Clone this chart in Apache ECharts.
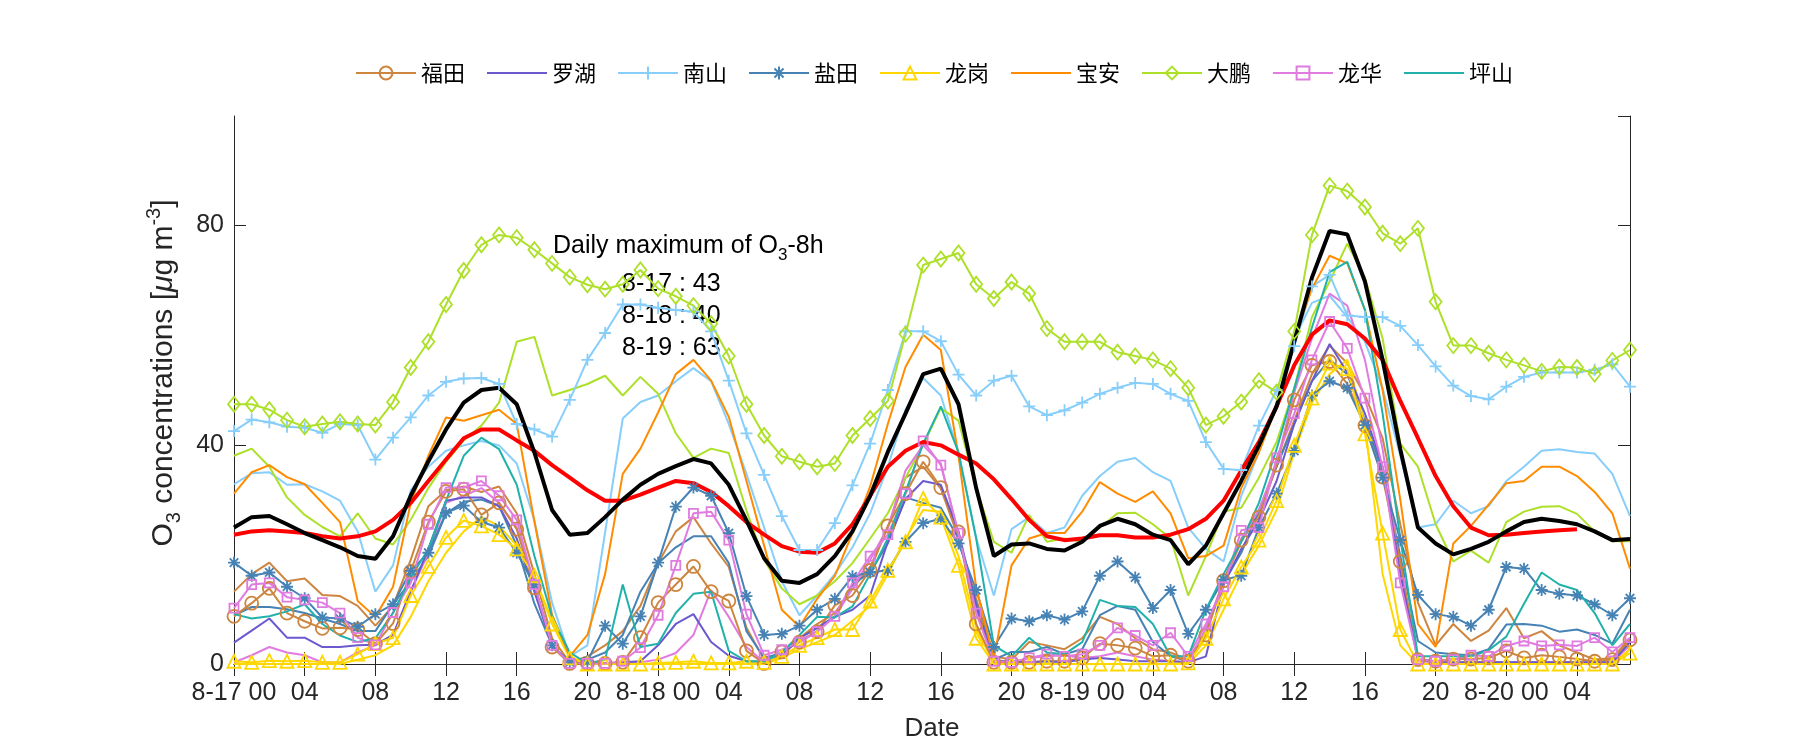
<!DOCTYPE html>
<html><head><meta charset="utf-8">
<script src="https://cdn.jsdelivr.net/npm/echarts@6/dist/echarts.min.js"></script>
<style>html,body{margin:0;padding:0;background:#fff}#c{width:1800px;height:750px}</style>
</head><body><div id="c"></div>
<script>
// ---------- tick labels / categories ----------
const days = ['8-17', '8-18', '8-19', '8-20'];
const nHours = 80;
const categories = [];
for (let h = 0; h < nHours; h++) {
  const d = Math.floor(h / 24), hh = h % 24;
  categories.push(hh === 0 ? days[d] + ' 00' : String(hh).padStart(2, '0'));
}
const stations = ['福田', '罗湖', '南山', '盐田', '龙岗', '宝安', '大鹏', '龙华', '坪山'];

// ---------- annotation ----------
const annDays = ['8-17', '8-18', '8-19'];
const annMax = [43, 40, 63];

// ---------- series values (hourly, 8-17 00 .. 8-20 07) ----------
const futian = [8.7, 11.1, 13.8, 9.3, 7.8, 6.5, 6.6, 6.3, 3.7, 7.4, 16.9, 25.9, 31.5, 31.9,
  27.2, 29.4, 24.6, 13.9, 3.1, 0.1, 0.1, 0.1, 0.3, 4.8, 11.2, 14.5, 17.8,
  13.2, 11.5, 2.4, 0.1, 2.2, 4.0, 5.9, 10.7, 12.5, 17.1, 25.2, 31.1, 36.9,
  32.2, 24.1, 7.3, 0.3, 0.3, 0.3, 0.5, 0.5, 1.1, 3.7, 3.4, 2.9, 1.4,
  1.6, 0.5, 5.3, 15.2, 22.6, 26.8, 36.3, 48.2, 54.5, 55.2, 51.1, 43.5, 34.1,
  18.7, 0.8, 0.5, 0.9, 0.9, 1.1, 2.4, 1.1, 1.6, 1.3, 0.9, 0.5, 0.8, 4.4];
const futian2 = [13.2, 16.4, 18.5, 15.1, 15.6, 12.6, 12.4, 10.6, 7.0, 10.6, 19.0, 28.8, 31.7, 32.4,
  31.4, 32.4, 27.5, 16.4, 4.7, 0.3, 1.4, 3.4, 6.0, 10.6, 18.4, 24.2, 26.8,
  22.0, 17.7, 6.6, 0.8, 2.0, 4.7, 7.3, 9.3, 13.8, 17.7, 24.9, 34.0, 36.0,
  32.0, 23.0, 11.9, 1.4, 0.8, 4.0, 3.4, 2.7, 4.7, 8.6, 7.3, 4.7, 2.7,
  2.1, 0.8, 6.0, 15.1, 22.3, 27.5, 36.0, 44.4, 52.9, 58.1, 54.9, 49.0, 41.2,
  25.5, 11.2, 3.4, 7.3, 4.2, 6.1, 10.2, 4.7, 6.0, 3.4, 2.1, 0.8, 1.1, 4.7];
const luohu = [3.9, 6.1, 8.3, 4.8, 4.8, 3.1, 3.1, 3.4, 3.5, 5.3, 13.2, 21.0, 29.8, 30.4,
  30.4, 28.8, 22.9, 13.2, 3.4, 0.3, 0.0, 0.0, 0.3, 0.5, 3.4, 7.3, 9.1,
  4.0, 1.5, 0.5, 0.3, 1.5, 4.7, 6.6, 8.6, 9.9, 12.5, 22.3, 30.1, 33.4,
  32.7, 24.2, 10.6, 0.5, 0.5, 0.3, 0.5, 0.3, 0.8, 1.1, 0.8, 0.5, 0.5,
  0.5, 0.3, 1.4, 14.5, 21.0, 26.2, 33.4, 43.8, 51.6, 58.4, 53.2, 45.7, 36.0,
  16.4, 0.8, 0.5, 0.3, 0.3, 0.3, 0.3, 0.3, 0.3, 0.3, 0.3, 0.3, 0.3, 4.0];
const nanshan = [42.5, 44.6, 44.1, 43.3, 43.1, 42.2, 43.8, 43.6, 37.3, 41.3, 45.0, 49.0, 51.5, 52.1,
  52.2, 51.1, 43.8, 42.8, 41.5, 48.2, 55.5, 60.4, 65.6, 65.6, 65.0, 64.6, 64.3,
  60.7, 51.7, 42.1, 34.5, 27.0, 20.8, 20.8, 25.7, 32.6, 40.2, 50.0, 60.7, 60.7,
  58.9, 52.8, 49.0, 51.7, 52.6, 47.0, 45.4, 46.3, 47.7, 49.3, 50.4, 51.3, 51.1,
  49.3, 48.0, 40.5, 35.6, 35.4, 43.5, 50.0, 58.0, 68.9, 71.0, 63.6, 63.3, 63.3,
  61.7, 58.2, 54.3, 50.8, 48.9, 48.3, 50.6, 52.4, 53.2, 53.2, 53.2, 53.7, 54.7, 50.6];
const nanshan2 = [32.8, 34.8, 35.0, 32.7, 32.8, 31.5, 29.8, 24.2, 13.2, 18.0, 31.7, 36.0, 38.9, 39.9,
  40.7, 39.9, 36.6, 26.2, 11.2, 1.4, 3.4, 24.0, 44.8, 47.8, 49.0, 51.6, 54.0,
  51.6, 43.8, 34.7, 24.9, 15.1, 8.9, 12.5, 16.4, 21.3, 27.5, 36.0, 46.4, 52.2,
  49.0, 38.6, 23.0, 12.5, 24.6, 26.8, 23.9, 24.9, 30.7, 34.3, 36.9, 37.6, 35.0,
  33.4, 24.9, 21.0, 18.7, 30.7, 38.6, 47.7, 59.4, 65.9, 67.2, 63.3, 58.8, 50.3,
  38.0, 24.9, 25.5, 29.8, 27.5, 28.8, 33.4, 36.0, 38.9, 39.2, 38.7, 38.4, 34.7, 27.0];
const yantian = [18.5, 16.1, 16.7, 14.1, 12.0, 8.5, 8.3, 6.8, 9.1, 10.9, 17.0, 20.3, 27.6, 28.9,
  25.9, 24.9, 20.3, 14.5, 3.4, 0.3, 0.5, 7.0, 3.7, 8.7, 18.5, 28.7, 32.2,
  30.7, 23.9, 12.4, 5.3, 5.5, 7.0, 9.9, 11.9, 16.0, 16.7, 17.1, 22.3, 25.7,
  26.5, 22.0, 13.5, 3.1, 8.3, 7.8, 8.9, 8.1, 9.6, 16.1, 18.7, 15.8, 10.2,
  13.5, 5.5, 9.9, 15.4, 16.1, 24.9, 31.1, 38.9, 49.0, 51.6, 50.4, 43.6, 34.0,
  22.6, 12.6, 9.1, 8.6, 7.0, 9.9, 17.7, 17.4, 13.5, 12.8, 12.5, 10.9, 8.9, 12.0];
const yantian2 = [8.9, 10.4, 10.4, 10.0, 9.3, 8.3, 7.3, 6.0, 6.0, 10.9, 15.1, 19.7, 27.5, 29.6,
  30.0, 28.8, 21.6, 11.0, 3.4, 0.3, 0.8, 2.1, 5.3, 13.2, 18.4, 21.3, 23.3,
  23.3, 18.4, 6.0, 1.1, 2.0, 4.7, 6.6, 8.6, 14.5, 16.7, 22.0, 30.4, 29.4,
  28.5, 22.9, 11.2, 0.8, 2.2, 2.2, 3.1, 1.8, 2.7, 8.9, 10.6, 9.9, 4.0,
  1.4, 0.5, 6.0, 14.8, 20.3, 28.1, 36.0, 43.8, 51.6, 55.5, 52.9, 44.4, 35.3,
  19.7, 4.2, 2.1, 1.8, 1.6, 2.7, 7.2, 7.3, 7.0, 5.9, 6.3, 5.3, 3.7, 9.9];
const longgang = [0.5, 0.3, 0.6, 0.5, 0.6, 0.3, 0.3, 1.8, 3.7, 4.8, 12.5, 17.8, 23.1, 26.2,
  25.2, 23.6, 21.0, 16.1, 7.3, 1.1, 0.0, 0.0, 0.0, 0.0, 0.2, 0.3, 0.5,
  0.2, 0.2, 0.5, 0.3, 1.4, 3.4, 4.8, 6.3, 6.3, 11.5, 17.1, 22.3, 30.2,
  26.8, 18.0, 4.7, 0.0, 0.0, 0.0, 0.0, 0.0, 0.0, 0.0, 0.0, 0.0, 0.0,
  0.0, 0.2, 4.7, 11.9, 17.7, 22.6, 29.8, 39.9, 48.5, 54.9, 53.9, 42.0, 23.9,
  6.3, 0.0, 0.0, 0.0, 0.0, 0.0, 0.0, 0.0, 0.0, 0.0, 0.0, 0.0, 0.0, 2.0];
const longgang2 = [0.0, 0.0, 0.0, 0.0, 0.0, 0.0, 0.0, 0.8, 1.6, 3.4, 8.6, 15.1, 20.3, 24.2,
  26.8, 25.2, 21.6, 15.8, 8.0, 1.4, 0.0, 0.0, 0.0, 0.0, 0.0, 0.0, 0.0,
  0.0, 0.0, 0.0, 0.0, 1.1, 2.7, 4.0, 5.3, 7.9, 10.6, 16.4, 22.9, 28.1,
  27.8, 19.7, 6.6, 0.0, 0.0, 0.0, 0.0, 0.0, 0.0, 0.0, 0.0, 0.0, 0.0,
  0.0, 0.0, 3.4, 9.9, 16.4, 21.6, 28.1, 38.6, 47.7, 52.9, 55.5, 43.8, 16.4,
  3.4, 0.0, 0.0, 0.0, 0.0, 0.0, 0.0, 0.0, 0.0, 0.0, 0.0, 0.0, 0.0, 2.7];
const baoan = [31.1, 35.0, 36.3, 34.1, 32.8, 29.4, 25.9, 11.5, 8.6, 14.1, 29.4, 38.0, 45.0, 44.4,
  45.4, 46.4, 43.8, 26.0, 9.0, 1.4, 5.3, 16.4, 34.7, 39.3, 45.9, 52.9, 55.5,
  51.7, 45.1, 33.4, 21.6, 9.9, 6.8, 11.9, 16.1, 23.9, 32.4, 43.8, 54.2, 60.1,
  57.3, 38.0, 14.0, 1.0, 18.0, 22.9, 23.9, 23.9, 27.8, 33.2, 31.1, 29.6, 31.5,
  27.5, 19.3, 19.7, 21.6, 32.1, 38.6, 47.0, 59.4, 68.5, 74.5, 73.1, 64.6, 50.0,
  30.0, 7.3, 3.1, 22.0, 25.2, 29.1, 33.0, 33.4, 36.0, 36.0, 34.3, 31.4, 27.5, 17.4];
const dapeng = [47.4, 47.4, 46.4, 44.5, 43.3, 43.8, 44.2, 43.8, 43.6, 47.8, 54.1, 58.8, 65.6, 71.8,
  76.5, 78.3, 77.8, 75.6, 73.1, 70.6, 69.2, 68.4, 69.3, 71.9, 68.5, 67.1, 65.4,
  62.1, 56.2, 47.4, 41.7, 37.9, 36.9, 36.0, 36.6, 41.7, 44.8, 48.0, 60.2, 72.8,
  73.9, 75.0, 69.3, 66.7, 69.7, 67.6, 61.2, 58.8, 58.8, 58.8, 56.9, 56.2, 55.5,
  53.9, 50.4, 43.6, 45.2, 47.8, 51.7, 49.6, 60.7, 78.3, 87.3, 86.3, 83.4, 78.6,
  76.7, 79.5, 66.1, 58.1, 58.1, 56.7, 55.5, 54.5, 53.4, 54.2, 54.1, 52.9, 55.4, 57.3];
const dapeng2 = [38.0, 39.3, 36.0, 30.4, 27.2, 25.0, 23.3, 27.5, 22.9, 21.8, 26.3, 32.1, 36.9, 40.8,
  43.5, 47.7, 58.8, 59.7, 49.0, 50.0, 51.1, 52.6, 49.0, 52.4, 49.3, 42.1, 37.6,
  39.3, 38.5, 28.0, 19.0, 13.8, 10.9, 12.5, 15.1, 18.4, 22.9, 27.5, 34.0, 40.0,
  46.7, 44.4, 32.1, 22.3, 20.3, 27.2, 22.3, 22.9, 22.3, 24.9, 27.5, 27.6, 25.5,
  22.9, 12.5, 19.7, 27.8, 28.5, 34.0, 40.5, 50.3, 63.3, 69.8, 76.7, 70.5, 59.4,
  40.2, 36.0, 25.5, 18.7, 20.7, 18.5, 25.9, 27.8, 28.7, 28.8, 27.4, 24.2, 22.4, 22.4];
const longhua = [10.2, 14.5, 14.8, 12.2, 11.7, 11.2, 9.3, 4.8, 3.5, 9.4, 14.8, 25.5, 32.2, 32.2,
  33.4, 30.7, 26.3, 14.5, 3.4, 0.1, 0.1, 0.1, 0.5, 3.0, 8.9, 18.0, 27.5,
  27.8, 22.6, 9.1, 1.6, 2.6, 4.0, 5.9, 8.7, 14.8, 19.7, 23.6, 31.1, 40.7,
  36.3, 23.9, 9.3, 0.5, 0.3, 1.1, 1.8, 1.4, 1.8, 3.4, 6.6, 5.2, 3.4,
  5.7, 1.4, 7.3, 14.1, 24.4, 24.9, 37.6, 45.7, 55.5, 62.5, 57.6, 48.5, 36.0,
  14.8, 0.8, 0.5, 0.8, 1.6, 1.4, 3.3, 4.2, 3.3, 3.5, 3.3, 4.8, 2.2, 4.8];
const longhua2 = [0.3, 1.6, 3.1, 2.1, 1.6, 0.3, 0.3, 2.1, 3.4, 5.3, 13.2, 20.3, 29.4, 30.7,
  32.1, 29.4, 24.9, 14.5, 3.4, 0.3, 0.2, 0.2, 0.2, 0.3, 0.8, 2.0, 5.3,
  13.5, 8.6, 3.1, 0.3, 2.1, 4.2, 6.0, 8.6, 13.8, 19.0, 24.9, 35.3, 39.9,
  36.6, 23.6, 9.9, 0.8, 0.3, 1.1, 1.4, 1.6, 1.1, 1.4, 2.1, 1.4, 0.8,
  0.5, 0.3, 6.6, 15.1, 22.9, 28.1, 36.6, 49.6, 59.4, 67.6, 65.4, 55.5, 39.2,
  17.7, 0.5, 0.3, 0.3, 0.3, 0.3, 0.3, 0.3, 0.3, 0.3, 0.3, 0.3, 0.3, 3.4];
const pingshan = [9.1, 8.3, 8.7, 9.6, 10.9, 7.3, 5.2, 4.0, 4.7, 9.3, 15.8, 21.0, 29.8, 38.0,
  41.3, 39.2, 32.7, 19.7, 8.6, 2.1, 0.1, 0.8, 14.5, 3.1, 3.7, 9.3, 12.8,
  13.2, 2.4, 0.5, 0.5, 2.1, 5.3, 8.6, 8.5, 10.5, 16.4, 22.9, 31.4, 40.2,
  47.0, 38.6, 22.9, 3.4, 1.4, 4.8, 2.1, 1.8, 4.0, 11.7, 10.6, 10.4, 7.3,
  1.4, 1.4, 9.9, 16.4, 22.3, 29.4, 39.2, 50.3, 61.4, 71.5, 73.4, 64.6, 45.7,
  23.0, 1.4, 1.4, 1.4, 1.4, 2.5, 5.0, 11.0, 16.7, 14.5, 13.5, 9.3, 3.4, 7.3];
const blackLine = [24.9, 26.8, 27.0, 25.5, 23.9, 22.6, 21.3, 19.7, 19.2, 23.3, 30.7, 37.0, 42.8, 47.7,
  50.0, 50.4, 47.4, 38.6, 28.1, 23.6, 23.9, 26.8, 30.0, 32.7, 34.7, 36.1, 37.4,
  36.6, 32.7, 26.2, 19.3, 15.2, 14.8, 16.4, 19.7, 24.2, 30.7, 38.7, 45.7, 52.9,
  53.9, 47.4, 32.1, 19.7, 21.8, 22.0, 21.0, 20.7, 22.3, 25.2, 26.5, 25.5, 23.6,
  22.6, 18.2, 21.6, 27.5, 33.4, 39.9, 47.0, 58.8, 70.5, 79.0, 78.4, 69.8, 55.5,
  39.2, 24.9, 22.0, 20.0, 21.0, 22.3, 24.2, 25.9, 26.5, 26.1, 25.5, 24.2, 22.6, 22.8];
const redLine = [23.6, 24.2, 24.4, 24.2, 23.9, 23.3, 22.9, 23.3, 24.2, 26.3, 29.4, 33.4, 37.3, 41.2,
  42.8, 42.8, 40.8, 38.9, 36.3, 34.0, 31.7, 29.8, 29.8, 30.9, 32.2, 33.4, 33.0,
  31.4, 28.8, 25.9, 23.6, 21.5, 20.5, 20.3, 22.0, 25.5, 30.7, 36.0, 38.9, 40.5,
  39.9, 38.2, 36.6, 33.7, 30.1, 26.3, 23.3, 22.6, 22.9, 23.5, 23.5, 23.1, 23.1,
  23.6, 24.6, 26.5, 29.8, 35.3, 40.5, 47.0, 54.5, 60.1, 62.7, 62.0, 59.4, 55.5,
  48.0, 41.2, 34.3, 28.8, 24.9, 23.5, 23.6, 23.9, 24.2, 24.4, 24.6];

// ---------- styles ----------
const FONT = 'Liberation Sans';
const CJK = 'Noto Sans CJK SC';
const AX = '#262626';
const plusPath = 'path://M5,0L5,10M0,5L10,5';
const starPath = 'path://M5,0L5,10M0,5L10,5M1.46,1.46L8.54,8.54M1.46,8.54L8.54,1.46';

const main = [
  { name: '福田', data: futian,   color: '#CD853F', symbol: 'circle',   size: 13 },
  { name: '罗湖', data: luohu,    color: '#6A5ACD' },
  { name: '南山', data: nanshan,  color: '#87CEFA', symbol: plusPath,   size: 12 },
  { name: '盐田', data: yantian,  color: '#4682B4', symbol: starPath,   size: 12 },
  { name: '龙岗', data: longgang, color: '#FFD700', symbol: 'triangle', size: 13 },
  { name: '宝安', data: baoan,    color: '#FF8C00' },
  { name: '大鹏', data: dapeng,   color: '#ADE028', symbol: 'diamond',  size: [12, 15] },
  { name: '龙华', data: longhua,  color: '#E07BE0', symbol: 'rect',     size: 9 },
  { name: '坪山', data: pingshan, color: '#20B2AA' }
];
const twins = [
  { name: '福田 b', data: futian2,   color: '#CD853F' },
  { name: '南山 b', data: nanshan2,  color: '#87CEFA' },
  { name: '盐田 b', data: yantian2,  color: '#4682B4' },
  { name: '龙岗 b', data: longgang2, color: '#FFD700' },
  { name: '大鹏 b', data: dapeng2,   color: '#ADE028' },
  { name: '龙华 b', data: longhua2,  color: '#E07BE0' }
];

function lineSeries(s, width) {
  const o = {
    type: 'line', name: s.name, data: s.data,
    xAxisIndex: 0, yAxisIndex: 0,
    lineStyle: { color: s.color, width: width || 2 },
    emphasis: { disabled: true }, silent: true,
    animation: false, z: 2
  };
  if (s.symbol) {
    o.symbol = s.symbol; o.symbolSize = s.size; o.showSymbol = true; o.showAllSymbol = true;
    o.itemStyle = { color: 'rgba(0,0,0,0)', borderColor: s.color, borderWidth: 1.8 };
  } else {
    o.symbol = 'circle'; o.showSymbol = false;
    o.itemStyle = { color: 'rgba(0,0,0,0)', borderWidth: 0 };
  }
  return o;
}

const series = [];
twins.forEach(s => series.push(lineSeries(s)));
main.forEach(s => series.push(lineSeries(s)));
series.push(lineSeries({ name: 'mean b', data: redLine, color: '#FF0000' }, 4));
series.push(lineSeries({ name: 'mean a', data: blackLine, color: '#000000' }, 4));

const rich = {
  b: { fontFamily: FONT, fontSize: 25, color: '#000', lineHeight: 36 },
  s: { fontFamily: FONT, fontSize: 17, color: '#000', lineHeight: 20, verticalAlign: 'bottom' }
};
const graphic = [{
  type: 'text', x: 553, y: 246, silent: true,
  style: { text: '{b|Daily maximum of O}{s|3}{b|-8h}', rich: rich, verticalAlign: 'middle', align: 'left' }
}];
annDays.forEach((d, i) => {
  graphic.push({
    type: 'text', x: 622, y: 284 + 32 * i, silent: true,
    style: { text: d + ' : ' + annMax[i], fontFamily: FONT, fontSize: 25, fill: '#000', verticalAlign: 'middle', align: 'left' }
  });
});

const xBase = {
  type: 'category', data: categories, boundaryGap: false,
  axisLine: { show: true, lineStyle: { color: AX, width: 1 } },
  axisTick: { show: true, inside: true, interval: 3, length: 12, lineStyle: { color: AX } },
  splitLine: { show: false }
};
const yBase = {
  type: 'value', min: 0, max: 100, interval: 40,
  axisLine: { show: true, lineStyle: { color: AX, width: 1 } },
  axisTick: { show: true, inside: true, length: 12, lineStyle: { color: AX } },
  splitLine: { show: false }
};

const option = {
  backgroundColor: '#fff',
  animation: false,
  grid: { left: 234, right: 170, top: 116, bottom: 86, containLabel: false },
  legend: {
    data: stations, left: 350, top: 57, orient: 'horizontal',
    itemWidth: 60, itemHeight: 16, itemGap: 21,
    textStyle: { fontFamily: CJK, fontSize: 22, color: '#000' },
    selectedMode: false
  },
  xAxis: [
    Object.assign({}, xBase, {
      position: 'bottom',
      axisLabel: { show: true, interval: 3, margin: 17, fontFamily: FONT, fontSize: 25, color: AX },
      name: 'Date', nameLocation: 'middle', nameGap: 52,
      nameTextStyle: { fontFamily: FONT, fontSize: 26, color: AX }
    }),
    Object.assign({}, xBase, { position: 'top', axisLabel: { show: false } })
  ],
  yAxis: [
    Object.assign({}, yBase, {
      position: 'left',
      axisLabel: { show: true, margin: 10, fontFamily: FONT, fontSize: 25, color: AX, showMaxLabel: false },
      name: '{b|O}{s|3}{b| concentrations [}{i|μ}{b|g m}{p|-3}{b|]}',
      nameLocation: 'middle', nameGap: 50, nameRotate: 90,
      nameTextStyle: {
        fontFamily: FONT, fontSize: 30, color: AX, padding: [0, 0, 0, 34],
        rich: {
          b: { fontFamily: FONT, fontSize: 30, color: AX, lineHeight: 40 },
          i: { fontFamily: FONT, fontSize: 30, color: AX, lineHeight: 40, fontStyle: 'italic' },
          s: { fontFamily: FONT, fontSize: 20, color: AX, lineHeight: 24, verticalAlign: 'bottom' },
          p: { fontFamily: FONT, fontSize: 20, color: AX, lineHeight: 24, verticalAlign: 'top' }
        }
      }
    }),
    Object.assign({}, yBase, { position: 'right', axisLabel: { show: false } })
  ],
  graphic: graphic,
  series: series
};

const chart = echarts.init(document.getElementById('c'), null, { renderer: 'canvas' });
chart.setOption(option);
const bad = [futian, futian2, luohu, nanshan, nanshan2, yantian, yantian2, longgang, longgang2, baoan, dapeng, dapeng2, longhua, longhua2, pingshan, blackLine]
  .map((a, i) => a.length !== nHours ? i + ':' + a.length : null).filter(Boolean);
if (bad.length) { console.error('length mismatch ' + bad.join(',')); }
</script></body></html>
